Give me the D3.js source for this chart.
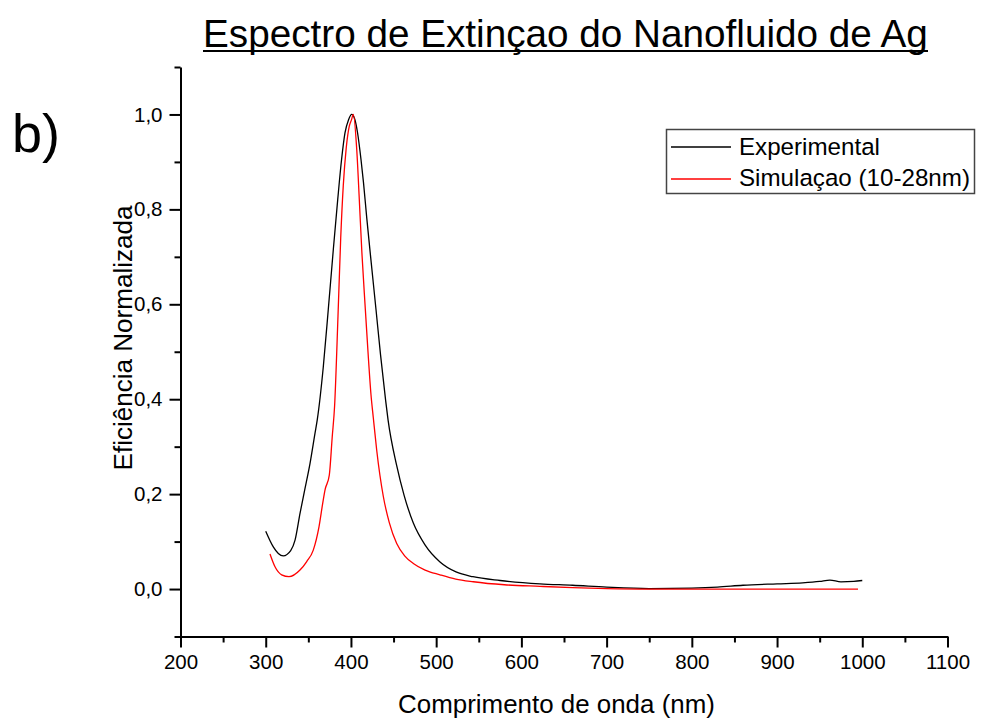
<!DOCTYPE html>
<html>
<head>
<meta charset="utf-8">
<script src="https://cdn.jsdelivr.net/npm/d3@7"></script>
<style>
  html, body { margin: 0; padding: 0; background: #fff; }
  svg { display: block; font-family: "Liberation Sans", Arial, sans-serif; }
</style>
</head>
<body>
<svg id="chart" width="1002" height="722"></svg>
<script>
// ---------------- data ----------------
const titleText = "Espectro de Extinçao do Nanofluido de Ag";
const panelLabel = "b)";
const xLabel = "Comprimento de onda (nm)";
const yLabel = "Eficiência Normalizada";
const seriesNames = ["Experimental", "Simulaçao (10-28nm)"];
const seriesColors = ["#000000", "#ff0000"];

const xMajorTicks = [200, 300, 400, 500, 600, 700, 800, 900, 1000, 1100];
const xMinorTicks = [250, 350, 450, 550, 650, 750, 850, 950, 1050];
const yMajorTicks = [0.0, 0.2, 0.4, 0.6, 0.8, 1.0];
const yMinorTicks = [-0.1, 0.1, 0.3, 0.5, 0.7, 0.9, 1.1];

// Experimental spectrum: [wavelength nm, normalized efficiency]
const experimental = [
  [300, 0.122], [308.9, 0.089], [314.8, 0.075], [320.6, 0.070], [329.3, 0.081],
  [334.4, 0.103], [340.3, 0.160], [346.1, 0.212], [352, 0.265], [357.8, 0.328],
  [360.5, 0.357], [367.6, 0.469], [373.4, 0.589], [379.3, 0.715], [384.5, 0.821],
  [389, 0.905], [393, 0.961], [397.2, 0.989], [400.9, 1.0], [404.5, 0.990],
  [407.7, 0.962], [411.8, 0.905], [414.7, 0.857], [418.6, 0.781], [423.1, 0.700],
  [429.4, 0.589], [434.7, 0.494], [440.6, 0.399], [443.5, 0.357], [453.7, 0.260],
  [462.3, 0.198], [473.2, 0.139], [486.9, 0.093], [504.5, 0.057], [523.3, 0.036],
  [543.2, 0.026], [575, 0.018], [621.8, 0.011], [660, 0.008], [700, 0.004],
  [750, 0.001], [800, 0.002], [830, 0.004], [860, 0.008], [900, 0.011],
  [930, 0.013], [950, 0.016], [962, 0.019], [975, 0.015], [990, 0.016], [1000, 0.018]
];

// Simulation (10-28 nm): [wavelength nm, normalized efficiency]
const simulation = [
  [305, 0.074], [310.9, 0.047], [318.7, 0.030], [327.3, 0.026], [340.2, 0.040],
  [348.1, 0.058], [355.8, 0.082], [362.5, 0.131], [366.9, 0.181], [369.6, 0.209],
  [374.6, 0.240], [378, 0.320], [380.8, 0.385], [384.8, 0.575], [388, 0.740],
  [391, 0.850], [394.5, 0.930], [398, 0.975], [400.5, 0.988], [402.8, 1.0],
  [406.8, 0.926], [409.8, 0.821], [412.8, 0.710], [416.9, 0.589], [420, 0.500],
  [423.5, 0.410], [426.3, 0.360], [430.2, 0.293], [438, 0.195], [445, 0.140],
  [453.7, 0.096], [463, 0.070], [473.2, 0.054], [487, 0.040], [504.5, 0.030],
  [523, 0.021], [543.6, 0.0154], [580, 0.009], [621.8, 0.0057], [660, 0.003],
  [700, 0.001], [750, 0.0], [800, 0.0], [850, 0.0], [900, 0.0], [950, 0.0], [995, 0.0]
];

// ---------------- chart ----------------
const svg = d3.select("#chart");
const FONT = "'Liberation Sans', Arial, sans-serif";

const x = d3.scaleLinear().domain([200, 1100]).range([180.5, 947.5]);
const y = d3.scaleLinear().domain([-0.1, 1.1]).range([636.5, 67]);

function fitWidth(sel, target) {
  const w = sel.node().getComputedTextLength();
  const fs = parseFloat(sel.attr("font-size"));
  sel.attr("font-size", fs * target / w);
  return fs * target / w;
}

// axes
const axisStroke = 2;
const gx = svg.append("g").attr("transform", `translate(0,${y(-0.1)})`);
gx.call(d3.axisBottom(x).tickValues(xMajorTicks).tickSize(11).tickSizeOuter(0).tickPadding(7)
  .tickFormat(d3.format("d")));
const gxm = svg.append("g").attr("transform", `translate(0,${y(-0.1)})`);
gxm.call(d3.axisBottom(x).tickValues(xMinorTicks).tickSize(6).tickSizeOuter(0).tickFormat(""));
gxm.select(".domain").remove();

const gy = svg.append("g").attr("transform", `translate(${x(200)},0)`);
gy.call(d3.axisLeft(y).tickValues(yMajorTicks).tickSize(11).tickSizeOuter(0).tickPadding(7)
  .tickFormat(d => d3.format(".1f")(d).replace(".", ",")));
const gym = svg.append("g").attr("transform", `translate(${x(200)},0)`);
gym.call(d3.axisLeft(y).tickValues(yMinorTicks).tickSize(6).tickSizeOuter(0).tickFormat(""));
gym.select(".domain").remove();

svg.selectAll(".domain").attr("stroke", "#000").attr("stroke-width", axisStroke);
svg.selectAll(".tick line").attr("stroke", "#000").attr("stroke-width", axisStroke);
svg.selectAll(".tick text").attr("font-family", FONT).attr("font-size", 20.5).attr("fill", "#000");
gx.selectAll(".tick text").attr("dy", "0.71em");

// curves
const line = d3.line().x(d => x(d[0])).y(d => y(d[1])).curve(d3.curveMonotoneX);
svg.append("path").datum(experimental).attr("d", line)
  .attr("fill", "none").attr("stroke", seriesColors[0]).attr("stroke-width", 1.3);
svg.append("path").datum(simulation).attr("d", line)
  .attr("fill", "none").attr("stroke", seriesColors[1]).attr("stroke-width", 1.3);

// title
const title = svg.append("text").attr("x", 203).attr("y", 47)
  .attr("font-family", FONT).attr("font-size", 36).attr("fill", "#000").text(titleText);
fitWidth(title, 725);
svg.append("line").attr("x1", 203).attr("x2", 928).attr("y1", 51).attr("y2", 51)
  .attr("stroke", "#000").attr("stroke-width", 2.2);

// panel label
svg.append("text").attr("x", 12).attr("y", 152)
  .attr("font-family", FONT).attr("font-size", 54).attr("fill", "#000").text(panelLabel);

// axis titles
const xl = svg.append("text").attr("x", 556.5).attr("y", 713).attr("text-anchor", "middle")
  .attr("font-family", FONT).attr("font-size", 24).attr("fill", "#000").text(xLabel);
fitWidth(xl, 317);
const yl = svg.append("text").attr("transform", "translate(132,338) rotate(-90)")
  .attr("text-anchor", "middle")
  .attr("font-family", FONT).attr("font-size", 23).attr("fill", "#000").text(yLabel);
fitWidth(yl, 265);

// legend
const lg = svg.append("g");
lg.append("rect").attr("x", 666.5).attr("y", 129.5).attr("width", 308).attr("height", 64)
  .attr("fill", "#fff").attr("stroke", "#444").attr("stroke-width", 1.5);
const legY = [147, 179];
const legBase = [155, 186];
let legFs = null;
seriesNames.forEach((name, i) => {
  lg.append("line").attr("x1", 671).attr("x2", 731).attr("y1", legY[i]).attr("y2", legY[i])
    .attr("stroke", seriesColors[i]).attr("stroke-width", 1.3);
  const t = lg.append("text").attr("x", 739).attr("y", legBase[i])
    .attr("font-family", FONT).attr("font-size", 23).attr("fill", "#000").text(name);
  if (i === 1) legFs = fitWidth(t, 231);
});
lg.selectAll("text").attr("font-size", legFs);
</script>
</body>
</html>
